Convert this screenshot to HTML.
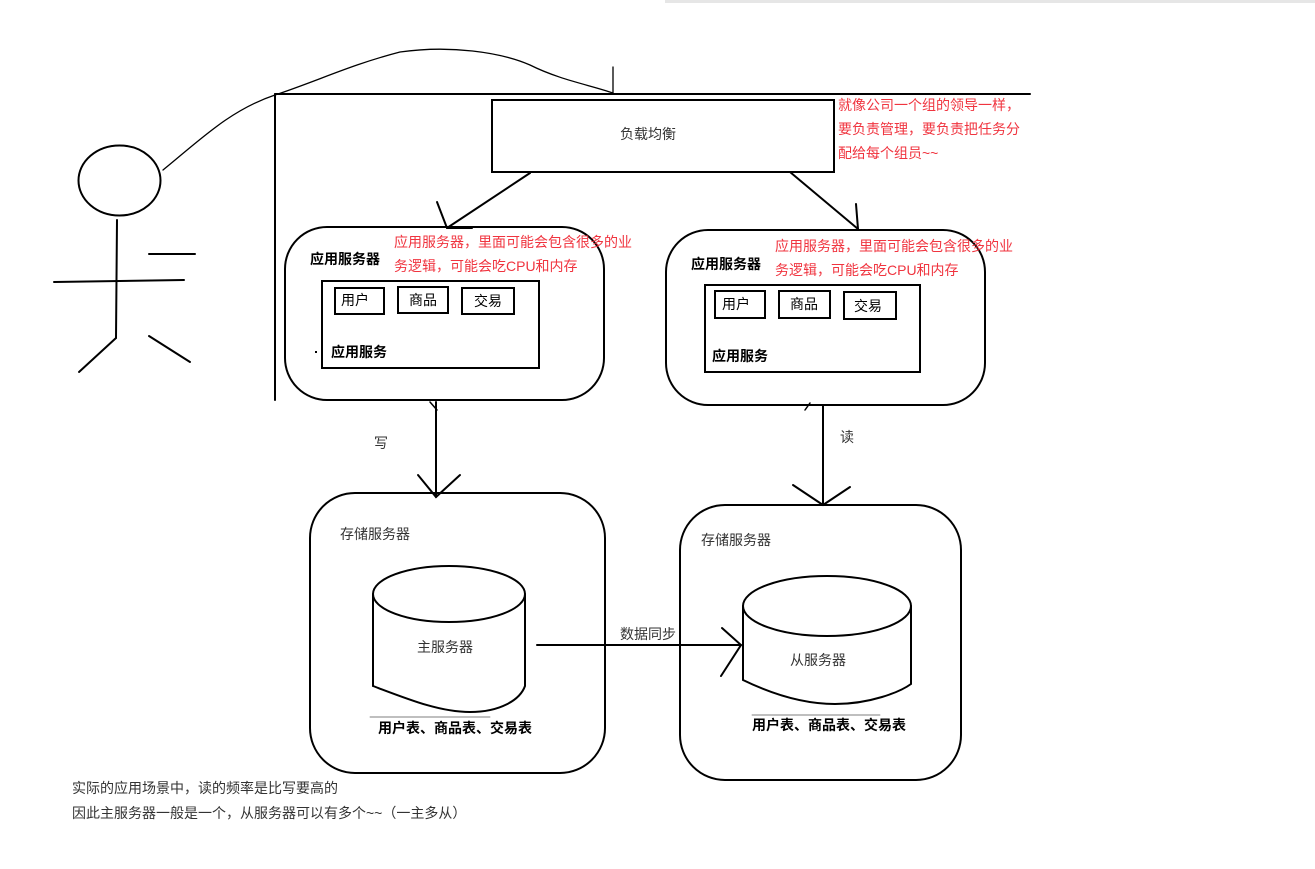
<!DOCTYPE html>
<html><head><meta charset="utf-8"><style>
html,body{margin:0;padding:0;background:#fff;}
svg{display:block;}
text{font-family:"Liberation Sans","Noto Sans CJK SC",sans-serif;font-size:14px;}
</style></head><body>
<svg width="1315" height="869" viewBox="0 0 1315 869" xmlns="http://www.w3.org/2000/svg">
<rect x="665" y="0" width="650" height="3" fill="#e6e6e6"/>
<g fill="none" stroke="#000" stroke-width="2" stroke-linecap="round">
<line x1="275" y1="94" x2="1030" y2="94"/>
<line x1="275" y1="94" x2="275" y2="400"/>
<path d="M163,170 C200,140 230,110 275,95 C320,80 350,65 400,52 C450,45 500,52 530,65 C560,80 590,85 613,93" stroke-width="1.3"/>
<line x1="613" y1="67" x2="613" y2="94" stroke-width="1.3"/>
<ellipse cx="119.5" cy="180.5" rx="41" ry="35"/>
<line x1="117" y1="220" x2="116" y2="338"/>
<line x1="54" y1="282" x2="184" y2="280"/>
<line x1="149" y1="254" x2="195" y2="254"/>
<line x1="116" y1="338" x2="79" y2="372"/>
<line x1="149" y1="336" x2="190" y2="362"/>
<rect x="492" y="100" width="342" height="72"/>
<line x1="530" y1="173" x2="447" y2="228"/>
<line x1="437" y1="202" x2="447" y2="228"/>
<line x1="447" y1="228" x2="472" y2="228"/>
<line x1="790" y1="172" x2="858" y2="229"/>
<line x1="856" y1="204" x2="858" y2="229"/>
<rect x="285" y="227" width="319" height="173" rx="42"/>
<rect x="322" y="281" width="217" height="87"/>
<rect x="335" y="288" width="49" height="26"/>
<rect x="398" y="287" width="50" height="26"/>
<rect x="462" y="288" width="52" height="26"/>
<rect x="666" y="230" width="319" height="175" rx="42"/>
<rect x="705" y="285" width="215" height="87"/>
<rect x="715" y="291" width="50" height="27"/>
<rect x="779" y="291" width="51" height="27"/>
<rect x="844" y="292" width="52" height="27"/>
<line x1="436" y1="402" x2="436" y2="497"/>
<polyline points="418,475 436,497 460,475"/>
<line x1="430" y1="402" x2="437" y2="410" stroke-width="1.5"/>
<line x1="823" y1="405" x2="823" y2="505"/>
<polyline points="793,485 823,505 850,487"/>
<line x1="805" y1="410" x2="810" y2="403" stroke-width="1.5"/>
<rect x="310" y="493" width="295" height="280" rx="45"/>
<path d="M373,594 L373,686 C410,700 440,712 470,712 C500,712 520,700 525,686 L525,594"/>
<ellipse cx="449" cy="594" rx="76" ry="28"/>
<line x1="370" y1="717" x2="490" y2="717" stroke-width="0.8" stroke="#555"/>
<rect x="680" y="505" width="281" height="275" rx="45"/>
<path d="M743,606 L743,680 C780,698 810,704 835,704 C870,704 900,692 911,684 L911,606"/>
<ellipse cx="827" cy="606" rx="84" ry="30"/>
<line x1="752" y1="715" x2="880" y2="715" stroke-width="0.8" stroke="#555"/>
<line x1="537" y1="645" x2="741" y2="645"/>
<polyline points="722,628 741,645 721,676"/>
</g>
<rect x="315" y="351" width="2" height="2" fill="#000"/>
<text x="648" y="139" text-anchor="middle" fill="#333">负载均衡</text>
<g fill="#f0343f">
<text x="838" y="110">就像公司一个组的领导一样，</text>
<text x="838" y="134">要负责管理，要负责把任务分</text>
<text x="838" y="158">配给每个组员~~</text>
<text x="394" y="247">应用服务器，里面可能会包含很多的业</text>
<text x="394" y="271">务逻辑，可能会吃CPU和内存</text>
<text x="775" y="251">应用服务器，里面可能会包含很多的业</text>
<text x="775" y="275">务逻辑，可能会吃CPU和内存</text>
</g>
<g fill="#000" font-weight="bold">
<text x="310" y="264">应用服务器</text>
<text x="341" y="305" font-weight="normal">用户</text>
<text x="409" y="305" font-weight="normal">商品</text>
<text x="474" y="306" font-weight="normal">交易</text>
<text x="331" y="357">应用服务</text>
<text x="691" y="269">应用服务器</text>
<text x="722" y="309" font-weight="normal">用户</text>
<text x="790" y="309" font-weight="normal">商品</text>
<text x="854" y="311" font-weight="normal">交易</text>
<text x="712" y="361">应用服务</text>
<text x="378" y="733">用户表、商品表、交易表</text>
<text x="752" y="730">用户表、商品表、交易表</text>
</g>
<g fill="#333">
<text x="374" y="448">写</text>
<text x="840" y="442">读</text>
<text x="340" y="539">存储服务器</text>
<text x="701" y="545">存储服务器</text>
<text x="417" y="652">主服务器</text>
<text x="790" y="665">从服务器</text>
<text x="620" y="639">数据同步</text>
<text x="72" y="793">实际的应用场景中，读的频率是比写要高的</text>
<text x="72" y="818">因此主服务器一般是一个，从服务器可以有多个~~（一主多从）</text>
</g>
</svg>
</body></html>
